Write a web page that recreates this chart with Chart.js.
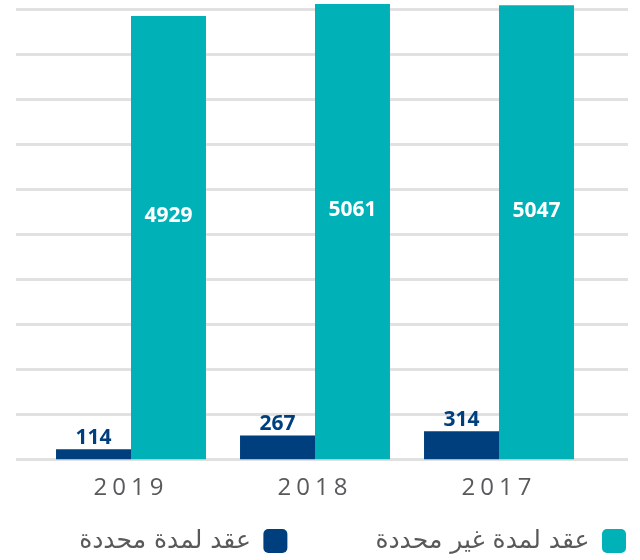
<!DOCTYPE html>
<html>
<head>
<meta charset="utf-8">
<script src="https://cdn.jsdelivr.net/npm/chart.js@4"></script>
<style>
html,body{margin:0;padding:0;background:#fff;}
#wrap{width:640px;height:560px;}
</style>
</head>
<body>
<div id="wrap"><canvas id="c" width="640" height="560"></canvas></div>
<script>
// ---- data ----
const categories = ['2019', '2018', '2017'];
const fixedTermContracts = [114, 267, 314];      // عقد لمدة محددة
const openTermContracts = [4929, 5061, 5047];    // عقد لمدة غير محددة
const seriesNames = ['عقد لمدة محددة', 'عقد لمدة غير محددة'];
const gridValues = [0, 500, 1000, 1500, 2000, 2500, 3000, 3500, 4000, 4500, 5000];

// ---- style ----
const DARK = '#003f7e';
const TEAL = '#00b1b8';
const GRID = '#e1e1e1';
const TEXT = '#58595b';
const LEG_FONT = 25;
const PAD = 88;            // legend item spacing
const LP = -120;           // layout left padding (gives the legend room for one row)
const RP = 14 - PAD;       // layout right padding (legend right edge)
const W1 = 39 - LP;        // left spacer axis width
const W2 = 49 - RP;        // right spacer axis width
const XH = 40;             // x-axis band height
const TITLE_H = 528.5 - (459.5 + XH) - PAD;   // legend title band (negative shift)

const gridPlugin = {
  id: 'extGrid',
  beforeDatasetsDraw(chart) {
    const y = chart.scales.y, ca = chart.chartArea, ctx = chart.ctx;
    ctx.save();
    ctx.strokeStyle = GRID;
    ctx.lineWidth = 3;
    y.ticks.forEach(t => {
      const py = y.getPixelForValue(t.value);
      ctx.beginPath();
      ctx.moveTo(ca.left - 23, py);
      ctx.lineTo(ca.right + 37, py);
      ctx.stroke();
    });
    ctx.restore();
  }
};

const labelPlugin = {
  id: 'valueLabels',
  afterDatasetsDraw(chart) {
    const ctx = chart.ctx;
    ctx.save();
    ctx.textAlign = 'center';
    ctx.font = 'bold 21px "Open Sans", "DejaVu Sans", sans-serif';
    chart.data.datasets.forEach((ds, di) => {
      const meta = chart.getDatasetMeta(di);
      meta.data.forEach((bar, i) => {
        const v = ds.data[i];
        if (di === 1) {
          ctx.fillStyle = '#ffffff';
          ctx.textBaseline = 'middle';
          ctx.fillText(String(v), bar.x, bar.y + (bar.base - bar.y) * 0.452);
        } else {
          ctx.fillStyle = DARK;
          ctx.textBaseline = 'alphabetic';
          ctx.fillText(String(v), bar.x, bar.y - 5);
        }
      });
    });
    ctx.restore();
    ctx.letterSpacing = '5px';
  },
  afterDraw(chart) {
    chart.ctx.letterSpacing = '0px';
  }
};

new Chart(document.getElementById('c'), {
  type: 'bar',
  data: {
    labels: categories,
    datasets: [
      { label: seriesNames[0], data: fixedTermContracts, backgroundColor: DARK, borderWidth: 0,
        categoryPercentage: 0.815, barPercentage: 1.0 },
      { label: seriesNames[1], data: openTermContracts, backgroundColor: TEAL, borderWidth: 0,
        categoryPercentage: 0.815, barPercentage: 1.0 }
    ]
  },
  options: {
    responsive: false,
    animation: false,
    devicePixelRatio: 1,
    layout: { padding: { top: 0, left: LP, right: RP, bottom: -3.5 } },
    scales: {
      x: {
        grid: { display: false, drawTicks: false },
        border: { display: false },
        ticks: { color: TEXT, padding: 14, z: 1, font: { family: '"Open Sans", sans-serif', size: 24 } },
        afterFit: s => { s.height = XH; }
      },
      y: {
        min: 0, max: 5105.6,
        grid: { display: false, drawTicks: false },
        border: { display: false },
        ticks: { display: false },
        afterBuildTicks: s => { s.ticks = gridValues.map(v => ({ value: v })); },
        afterFit: s => { s.width = W1; }
      },
      y2: {
        position: 'right',
        grid: { display: false, drawTicks: false },
        border: { display: false },
        ticks: { display: false },
        afterFit: s => { s.width = W2; }
      }
    },
    plugins: {
      legend: {
        position: 'bottom',
        align: 'start',
        rtl: true,
        reverse: true,
        title: { display: true, text: '', font: { size: 12 }, padding: { top: 0, bottom: TITLE_H - 14.4 } },
        labels: {
          boxWidth: 24, boxHeight: 24,
          useBorderRadius: true, borderRadius: 5,
          padding: PAD,
          color: TEXT,
          font: { family: '"DejaVu Sans", sans-serif', size: LEG_FONT }
        }
      },
      tooltip: { enabled: false }
    }
  },
  plugins: [gridPlugin, labelPlugin]
});
</script>
</body>
</html>
